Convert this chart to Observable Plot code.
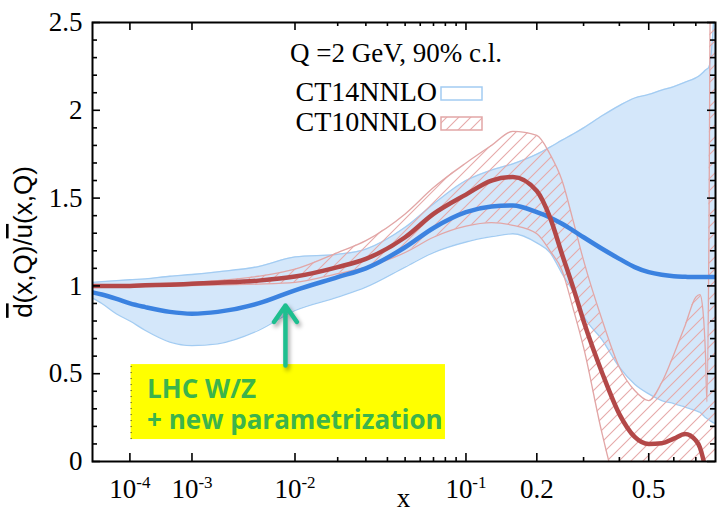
<!DOCTYPE html>
<html><head><meta charset="utf-8">
<script src="https://cdn.jsdelivr.net/npm/d3@7"></script>
<script src="https://cdn.jsdelivr.net/npm/@observablehq/plot@0.6"></script>
<style>
html,body{margin:0;padding:0;background:#fff;}
#chart{position:relative;width:718px;height:515px;}
g[aria-label="arrow"]{filter:drop-shadow(2px 3px 2px rgba(0,0,0,0.35));}
</style></head><body><div id="chart"></div>
<script>
// ---- data ----
const xs = [1e-5, 2e-5, 5e-5, 1e-4, 2e-4, 5e-4, 1e-3, 2e-3, 5e-3, 0.01, 0.02, 0.03, 0.05, 0.07, 0.1, 0.13, 0.16, 0.2, 0.225, 0.25, 0.275, 0.3, 0.35, 0.4, 0.45, 0.5, 0.55, 0.6, 0.65, 0.7, 0.72, 0.735, 0.748, 0.755, 0.765, 0.775, 0.8];
const ct14Central = [0.963, 0.951, 0.926, 0.900, 0.879, 0.852, 0.842, 0.852, 0.900, 0.975, 1.050, 1.100, 1.220, 1.330, 1.420, 1.452, 1.458, 1.420, 1.390, 1.354, 1.315, 1.277, 1.210, 1.154, 1.107, 1.078, 1.063, 1.055, 1.052, 1.050, 1.050, 1.050, 1.050, 1.050, 1.050, 1.050, 1.050];
const ct14Upper = [1.020, 1.024, 1.030, 1.035, 1.040, 1.055, 1.065, 1.080, 1.110, 1.165, 1.180, 1.210, 1.334, 1.467, 1.600, 1.660, 1.695, 1.750, 1.790, 1.830, 1.865, 1.900, 1.970, 2.027, 2.070, 2.090, 2.115, 2.135, 2.160, 2.185, 2.200, 2.215, 2.230, 2.235, 2.245, 2.300, 2.700];
const ct14Lower = [0.930, 0.900, 0.840, 0.800, 0.746, 0.680, 0.660, 0.670, 0.746, 0.860, 0.936, 0.993, 1.107, 1.190, 1.250, 1.280, 1.297, 1.245, 1.190, 1.070, 0.965, 0.830, 0.690, 0.537, 0.440, 0.385, 0.347, 0.330, 0.310, 0.290, 0.280, 0.265, 0.250, 0.245, 0.238, 0.230, 0.215];
const ct10Central = [1.000, 1.000, 1.000, 1.000, 1.003, 1.007, 1.012, 1.018, 1.030, 1.053, 1.107, 1.154, 1.277, 1.410, 1.520, 1.600, 1.620, 1.540, 1.390, 1.180, 0.990, 0.800, 0.500, 0.270, 0.140, 0.100, 0.104, 0.130, 0.157, 0.120, 0.080, 0.020, -0.050, -0.100, -0.200, -0.300, -0.400];
const ct10Upper = [1.006, 1.006, 1.006, 1.006, 1.010, 1.015, 1.020, 1.030, 1.055, 1.095, 1.190, 1.258, 1.410, 1.560, 1.700, 1.800, 1.880, 1.857, 1.750, 1.600, 1.370, 1.145, 0.800, 0.537, 0.404, 0.347, 0.450, 0.610, 0.775, 0.936, 0.950, 0.860, 0.600, 0.340, 1.200, 3.000, 3.000];
const ct10Lower = [0.994, 0.994, 0.994, 0.994, 0.996, 0.998, 1.002, 1.006, 1.010, 1.020, 1.070, 1.107, 1.190, 1.277, 1.340, 1.360, 1.345, 1.297, 1.200, 1.088, 0.870, 0.650, 0.150, -0.200, -0.300, -0.300, -0.300, -0.300, -0.300, -0.300, -0.300, -0.300, -0.300, -0.300, -0.300, -0.300, -0.300];

const xMajorTicks = [1e-4, 1e-3, 1e-2, 0.1, 0.2, 0.5];
const xMajorLabels = ["10^-4", "10^-3", "10^-2", "10^-1", "0.2", "0.5"];
const xMinorTicks = [0.02, 0.03, 0.04, 0.05, 0.06, 0.07, 0.08, 0.09, 0.3, 0.4, 0.6, 0.7];
const yMajorTicks = [0, 0.5, 1, 1.5, 2, 2.5];
const yMinorTicks = [0.1, 0.2, 0.3, 0.4, 0.6, 0.7, 0.8, 0.9, 1.1, 1.2, 1.3, 1.4, 1.6, 1.7, 1.8, 1.9, 2.1, 2.2, 2.3, 2.4];

const legendTitle = "Q =2 GeV, 90% c.l.";
const legendLabels = ["CT14NNLO", "CT10NNLO"];
const xLabel = "x";
const noteLines = ["LHC W/Z", "+ new parametrization"];
const noteBox = [{x1: 1.06e-4, x2: 0.0801, y1: 0.125, y2: 0.552}];
const noteArrow = [{x: 0.00843, y1: 0.547, y2: 0.888}];

// ---- build ----
const rows = xs.map((x, i) => ({
  x, c14: ct14Central[i], hi14: ct14Upper[i], lo14: ct14Lower[i],
  c10: ct10Central[i], hi10: ct10Upper[i], lo10: ct10Lower[i]
}));

const W = 718, H = 515, mL = 92, mR = 3, mT = 22, mB = 54;
const innerW = W - mL - mR, innerH = H - mT - mB;
const serif = "'Liberation Serif','Times New Roman',serif";
const curve = "monotone-x";

const plot = Plot.plot({
  width: W, height: H,
  marginLeft: mL, marginRight: mR, marginTop: mT, marginBottom: mB,
  style: {background: "white", fontFamily: serif, color: "black"},
  x: {type: "pow", exponent: 0.22, domain: [1e-5, 0.8], axis: null},
  y: {domain: [0, 2.5], axis: null},
  marks: [
    Plot.areaY(rows, {x: "x", y1: "lo14", y2: "hi14", fill: "#d4e7fa", curve, clip: true}),
    Plot.line(rows, {x: "x", y: "lo14", stroke: "#a3ccf2", strokeWidth: 1.3, curve, clip: true}),
    Plot.line(rows, {x: "x", y: "hi14", stroke: "#a3ccf2", strokeWidth: 1.3, curve, clip: true}),
    Plot.areaY(rows, {x: "x", y1: "lo10", y2: "hi10", fill: "url(#hatch10)", curve, clip: true}),
    Plot.line(rows, {x: "x", y: "lo10", stroke: "#e2a6a6", strokeWidth: 1.3, curve, clip: true}),
    Plot.line(rows, {x: "x", y: "hi10", stroke: "#e2a6a6", strokeWidth: 1.3, curve, clip: true}),
    Plot.line(rows, {x: "x", y: "c14", stroke: "#3b82e0", strokeWidth: 4.5, curve, clip: true}),
    Plot.line(rows, {x: "x", y: "c10", stroke: "#b34848", strokeWidth: 4.5, curve, clip: true}),
    // annotation box + arrow
    Plot.rect(noteBox, {x1: "x1", x2: "x2", y1: "y1", y2: "y2", fill: "#ffff00"}),
    Plot.ruleX(noteBox, {x: "x1", y1: "y1", y2: "y2", stroke: "#333", strokeWidth: 1, strokeDasharray: "1,5"}),
    Plot.text([noteLines[0]], {x: () => noteBox[0].x1, y: () => noteBox[0].y2, text: d => d, dx: 16, dy: 33,
      textAnchor: "start", lineAnchor: "bottom", fill: "#3cb44b", fontSize: 26, fontWeight: 700,
      fontFamily: "'Open Sans', sans-serif"}),
    Plot.text([noteLines[1]], {x: () => noteBox[0].x1, y: () => noteBox[0].y2, text: d => d, dx: 16, dy: 64,
      textAnchor: "start", lineAnchor: "bottom", fill: "#3cb44b", fontSize: 26, fontWeight: 700,
      fontFamily: "'Open Sans', sans-serif"}),
    Plot.arrow(noteArrow, {x1: "x", x2: "x", y1: "y1", y2: "y2", stroke: "#1ebf8f", strokeWidth: 4.5,
      headLength: 20, headAngle: 70}),
    // frame and ticks
    Plot.frame({stroke: "black", strokeWidth: 2}),
    Plot.tickX(xMajorTicks, {x: d => d, insetTop: innerH - 8, stroke: "black", strokeWidth: 1.6}),
    Plot.tickX(xMajorTicks, {x: d => d, insetBottom: innerH - 8, stroke: "black", strokeWidth: 1.6}),
    Plot.tickX(xMinorTicks, {x: d => d, insetTop: innerH - 4, stroke: "black", strokeWidth: 1.6}),
    Plot.tickX(xMinorTicks, {x: d => d, insetBottom: innerH - 4, stroke: "black", strokeWidth: 1.6}),
    Plot.tickY(yMajorTicks, {y: d => d, insetRight: innerW - 8, stroke: "black", strokeWidth: 1.6}),
    Plot.tickY(yMajorTicks, {y: d => d, insetLeft: innerW - 8, stroke: "black", strokeWidth: 1.6}),
    Plot.tickY(yMinorTicks, {y: d => d, insetRight: innerW - 5, stroke: "black", strokeWidth: 1.6}),
    Plot.tickY(yMinorTicks, {y: d => d, insetLeft: innerW - 5, stroke: "black", strokeWidth: 1.6}),
    // tick labels
    Plot.text(yMajorTicks, {y: d => d, text: d => String(d), frameAnchor: "left", dx: -10,
      textAnchor: "end", fontSize: 27, fill: "black"}),
    Plot.text(xMajorTicks, {x: d => d, text: (d, i) => xMajorLabels[i], frameAnchor: "bottom", dy: 36,
      lineAnchor: "bottom", fontSize: 27, fill: "black"})
  ]
});

document.getElementById("chart").appendChild(plot);
const svg = d3.select(plot);

// hatch pattern
const defs = svg.insert("defs", ":first-child");
const pat = defs.append("pattern").attr("id", "hatch10").attr("patternUnits", "userSpaceOnUse")
  .attr("width", 12).attr("height", 12);
pat.append("path").attr("d", "M-3,3 L3,-3 M0,12 L12,0 M9,15 L15,9")
  .attr("stroke", "#e6a9a9").attr("stroke-width", 1.1).attr("fill", "none");

// superscripts on x tick labels
svg.selectAll("text").each(function () {
  if (this.childElementCount > 0) return;
  const m = (this.textContent || "").match(/^10\^(.+)$/);
  if (m) {
    this.textContent = "";
    const t = d3.select(this);
    t.append("tspan").text("10");
    t.append("tspan").attr("dy", "-0.55em").attr("font-size", "0.63em").text(m[1]);
  }
});

// axis titles
const yl = svg.append("text").attr("transform", "translate(32,242) rotate(-90)")
  .attr("text-anchor", "middle").attr("font-family", "'Liberation Sans', Arial, sans-serif")
  .attr("font-size", 26).attr("fill", "black");
yl.append("tspan").style("text-decoration", "overline").text("d");
yl.append("tspan").text("(x,Q)/");
yl.append("tspan").style("text-decoration", "overline").text("u");
yl.append("tspan").text("(x,Q)");

svg.append("text").attr("x", mL + innerW / 2).attr("y", 507).attr("text-anchor", "middle")
  .attr("font-family", serif).attr("font-size", 27).attr("fill", "black").text(xLabel);

// legend
const lg = svg.append("g").attr("font-family", serif).attr("fill", "black");
lg.append("text").attr("x", 396).attr("y", 62).attr("text-anchor", "middle").attr("font-size", 27).text(legendTitle);
lg.append("text").attr("x", 437).attr("y", 101).attr("text-anchor", "end").attr("font-size", 28).text(legendLabels[0]);
lg.append("text").attr("x", 437).attr("y", 131).attr("text-anchor", "end").attr("font-size", 28).text(legendLabels[1]);
lg.append("rect").attr("x", 441).attr("y", 87).attr("width", 41).attr("height", 13)
  .attr("fill", "white").attr("stroke", "#a3ccf2").attr("stroke-width", 1.5);
lg.append("rect").attr("x", 441).attr("y", 117).attr("width", 41).attr("height", 13)
  .attr("fill", "url(#hatch10)").attr("stroke", "#e2a6a6").attr("stroke-width", 1.5);
</script>
</body></html>
